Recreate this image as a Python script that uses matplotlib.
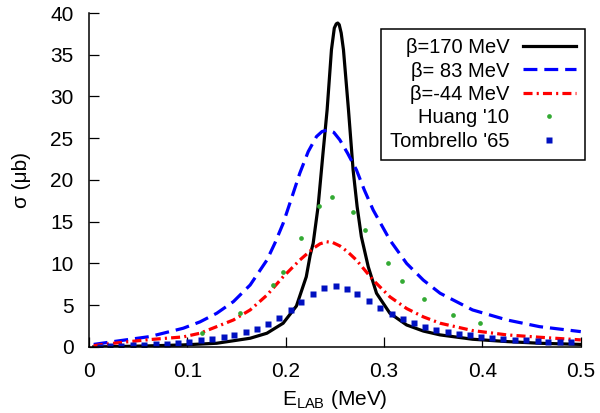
import matplotlib
matplotlib.use('Agg')
import matplotlib.pyplot as plt

plt.rcParams['font.family'] = ['Liberation Sans', 'DejaVu Sans']
plt.rcParams['mathtext.fontset'] = 'custom'
plt.rcParams['mathtext.rm'] = 'Liberation Sans'
plt.rcParams['mathtext.it'] = 'Liberation Sans:italic'
plt.rcParams['lines.scale_dashes'] = False

# beta = 170 MeV (solid black)
e_170 = [0.005, 0.03, 0.06, 0.096, 0.13, 0.164, 0.181, 0.1975, 0.211, 0.221, 0.225, 0.228,
         0.233, 0.238, 0.2422, 0.2466, 0.2495, 0.2515, 0.253, 0.2545, 0.2565, 0.2588, 0.2639,
         0.2686, 0.2727, 0.277, 0.284, 0.2924, 0.306, 0.323, 0.34, 0.357, 0.39, 0.425,
         0.458, 0.5]
s_170 = [0.0, 0.05, 0.12, 0.24, 0.44, 1.04, 1.64, 2.84, 4.9, 8.4, 11.0, 12.4,
         16.8, 23.2, 28.4, 35.6, 38.2, 38.7, 38.8, 38.6, 37.6, 35.6, 28.4,
         21.2, 16.8, 13.2, 9.6, 6.43, 4.03, 2.63, 1.9, 1.44, 0.92, 0.64,
         0.44, 0.3]

# beta = 83 MeV (blue dashed)
e_83 = [0.005, 0.03, 0.062, 0.096, 0.113, 0.13, 0.147, 0.164, 0.181, 0.189, 0.1975, 0.206,
        0.2144, 0.223, 0.2314, 0.237, 0.2432, 0.249, 0.2551, 0.263, 0.272, 0.28, 0.289,
        0.306, 0.323, 0.34, 0.357, 0.39, 0.425, 0.458, 0.5]
s_83 = [0.3, 0.72, 1.24, 2.24, 3.0, 4.03, 5.43, 7.42, 10.4, 12.4, 14.8, 17.8,
        20.8, 23.4, 25.2, 25.8, 26.0, 25.7, 24.8, 23.2, 21.2, 18.8, 16.4,
        12.8, 10.0, 8.0, 6.43, 4.43, 3.23, 2.43, 1.83]

# beta = -44 MeV (red dash-dot)
e_m44 = [0.005, 0.03, 0.062, 0.096, 0.113, 0.13, 0.147, 0.164, 0.181, 0.1975, 0.2144,
         0.228, 0.235, 0.2416, 0.248, 0.2551, 0.263, 0.272, 0.289, 0.306, 0.323, 0.34,
         0.357, 0.39, 0.425, 0.458, 0.5]
s_m44 = [0.15, 0.5, 0.88, 1.2, 1.64, 2.43, 3.23, 4.43, 6.2, 8.4, 10.4,
         11.8, 12.35, 12.6, 12.5, 12.1, 11.4, 10.4, 8.0, 6.0, 4.6, 3.6,
         2.84, 1.96, 1.44, 1.16, 0.84]

# Huang '10
e_huang = [0.115, 0.154, 0.187, 0.197, 0.2154, 0.234, 0.247, 0.2686, 0.281, 0.304,
           0.318, 0.341, 0.3706, 0.3974]
s_huang = [1.68, 4.07, 7.4, 9.0, 13.1, 16.9, 17.9, 16.2, 14.05, 10.0,
           7.9, 5.75, 3.83, 2.84]

# Tombrello '65
e_tomb = [0.011, 0.022, 0.033, 0.045, 0.056, 0.068, 0.079, 0.091, 0.102, 0.114, 0.125,
          0.137, 0.148, 0.160, 0.171, 0.182, 0.193, 0.205, 0.216, 0.228, 0.239, 0.251,
          0.262, 0.273, 0.285, 0.296, 0.308, 0.319, 0.330, 0.342, 0.353, 0.365, 0.376,
          0.387, 0.399, 0.410, 0.421, 0.433, 0.444, 0.456, 0.467, 0.479, 0.490]
s_tomb = [0.04, 0.12, 0.16, 0.24, 0.28, 0.32, 0.40, 0.48, 0.60, 0.80, 0.96,
          1.20, 1.44, 1.83, 2.16, 2.75, 3.47, 4.40, 5.39, 6.38, 7.07, 7.34,
          6.98, 6.38, 5.55, 4.71, 3.95, 3.39, 2.91, 2.43, 2.07, 1.80, 1.56,
          1.40, 1.23, 1.04, 0.92, 0.88, 0.80, 0.72, 0.64, 0.60, 0.56]

fig = plt.figure(figsize=(6, 4.13), dpi=100)
ax = fig.add_axes([0.148, 0.16, 0.82, 0.8085])

ax.plot(e_170, s_170, color='black', lw=2.3, label='β=170 MeV')
ax.plot(e_83, s_83, color='#0000ff', lw=2.3, dashes=(10, 5), label='β= 83 MeV')
ax.plot(e_m44, s_m44, color='#ff0000', lw=2.3, dashes=(6.5, 3, 1.5, 3), label='β=-44 MeV')
ax.plot(e_huang, s_huang, 'o', color='#33aa33', ms=3.4, mec='none', label="Huang '10")
ax.plot(e_tomb, s_tomb, 's', color='#0010c0', ms=4.5, mec='none', label="Tombrello '65")

ax.set_xlim(0, 0.5)
ax.set_ylim(0, 40)
ax.set_xticks([0, 0.1, 0.2, 0.3, 0.4, 0.5])
ax.set_xticklabels(['0', '0.1', '0.2', '0.3', '0.4', '0.5'])
ax.set_yticks(range(0, 41, 5))
ax.spines['top'].set_visible(False)
ax.spines['right'].set_visible(False)
ax.spines['left'].set_linewidth(1.1)
ax.spines['bottom'].set_linewidth(1.1)
ax.tick_params(direction='in', length=7, width=0.9, labelsize=15, pad=11)

ax.set_xlabel(r'E$_{\rm LAB}$ (MeV)', fontsize=15, labelpad=5)
ax.set_ylabel('σ (μb)', fontsize=15, labelpad=14)

leg = ax.legend(loc='upper right', bbox_to_anchor=(1.008, 0.952), borderaxespad=0,
                markerfirst=False, numpoints=1, fancybox=False, framealpha=1,
                edgecolor='black', fontsize=14.5, handlelength=2.6, handletextpad=0.7,
                labelspacing=0.22, borderpad=0.45)
leg.get_frame().set_linewidth(1.1)

fig.savefig('out.png', dpi=100)
